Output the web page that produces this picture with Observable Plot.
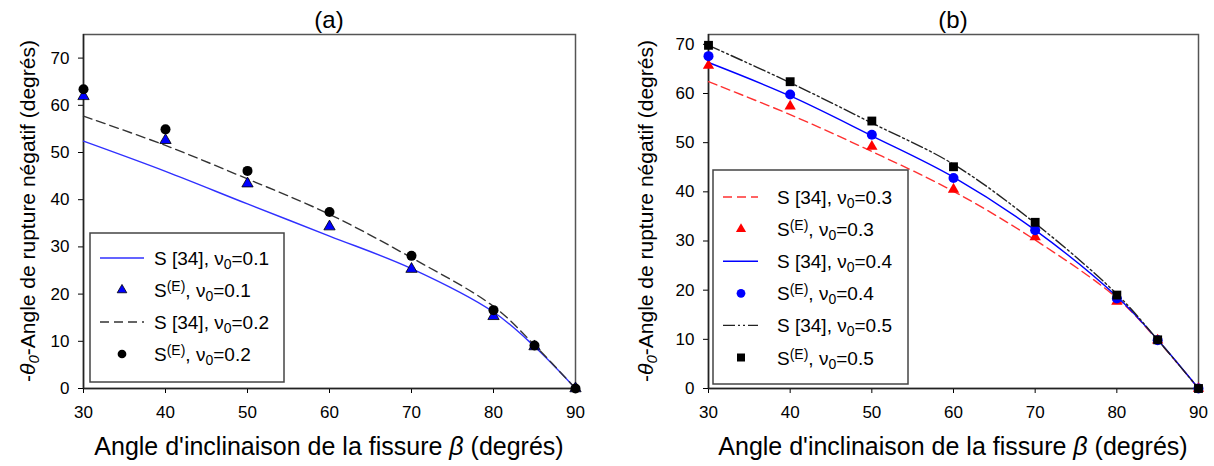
<!DOCTYPE html>
<html><head><meta charset="utf-8">
<script src="https://cdn.jsdelivr.net/npm/d3@7"></script>
<script src="https://cdn.jsdelivr.net/npm/@observablehq/plot@0.6"></script>
<style>
body{margin:0;background:#fff;font-family:"Liberation Sans",Arial,sans-serif;}
#wrap{position:relative;width:1214px;height:466px;overflow:hidden;background:#fff}
#wrap > svg{position:absolute;top:0}
</style></head><body><div id="wrap"></div>
<script>
// ---- data ----
const beta = [30, 40, 50, 60, 70, 80, 85, 90];
const xTicks = [30, 40, 50, 60, 70, 80, 90];
const yTicks = [0, 10, 20, 30, 40, 50, 60, 70];
// panel (a)
const a_S_nu01 = [52.4, 46.0, 39.1, 32.3, 25.4, 16.2, 8.9, 0];
const a_E_nu01 = [61.9, 52.6, 43.4, 34.3, 25.3, 15.3, 8.9, 0];
const a_S_nu02 = [57.7, 51.5, 44.4, 36.9, 27.7, 17.4, 9.2, 0];
const a_E_nu02 = [63.4, 54.9, 46.1, 37.4, 28.1, 16.6, 9.1, 0];
// panel (b)
const b_S_nu03 = [62.4, 55.7, 48.2, 40.1, 30.2, 18.4, 9.8, 0];
const b_E_nu03 = [65.7, 57.4, 49.2, 40.5, 30.8, 17.7, 9.8, 0];
const b_S_nu04 = [66.3, 59.5, 51.4, 43.0, 32.2, 18.7, 9.9, 0];
const b_E_nu04 = [67.6, 59.8, 51.6, 42.8, 32.2, 18.3, 9.8, 0];
const b_S_nu05 = [69.8, 62.2, 54.0, 45.6, 33.6, 19.2, 9.9, 0];
const b_E_nu05 = [69.8, 62.4, 54.4, 45.1, 33.8, 19.0, 9.9, 0];

const rows = vals => beta.map((b, i) => ({beta: b, v: vals[i]}));
const FONT = "Liberation Sans, Arial, sans-serif";

function makePlot(width, ml, mr, ymax, marks) {
  return Plot.plot({
    width, height: 466,
    marginLeft: ml, marginRight: mr, marginTop: 34, marginBottom: 78,
    style: {fontFamily: FONT, fontSize: "17px", color: "#000", background: "transparent", overflow: "visible"},
    x: {domain: [30, 90]},
    y: {domain: [0, ymax]},
    marks: [
      Plot.frame({stroke: "#555", strokeWidth: 1.5}),
      Plot.axisX({ticks: xTicks, tickSize: 5, tickPadding: 12, label: null, fontSize: 17}),
      Plot.axisY({ticks: yTicks, tickSize: 5, tickPadding: 9, label: null, fontSize: 17}),
      Plot.ruleX([30], {stroke: "#222", strokeWidth: 1.5}),
      Plot.ruleY([0], {stroke: "#222", strokeWidth: 1.5}),
      ...marks
    ]
  });
}

const L = (vals, o) => Plot.line(rows(vals), {x: "beta", y: "v", curve: "catmull-rom", strokeWidth: 1.4, ...o});
const D = (vals, o) => Plot.dot(rows(vals), {x: "beta", y: "v", ...o});

const plotA = makePlot(600, 83, 25, 75, [
  L(a_S_nu01, {stroke: "#3030ff"}),
  L(a_S_nu02, {stroke: "#333", strokeDasharray: "9,5"}),
  D(a_E_nu01, {symbol: "triangle", r: 4.2, fill: "#0000ff", stroke: "#000", strokeWidth: 0.8}),
  D(a_E_nu02, {symbol: "circle", r: 5, fill: "#000"})
]);
const plotB = makePlot(614, 108, 16, 72, [
  L(b_S_nu03, {stroke: "#ff3030", strokeDasharray: "9,5"}),
  L(b_S_nu04, {stroke: "#0000ff"}),
  L(b_S_nu05, {stroke: "#222", strokeDasharray: "12,3,2,3,2,3"}),
  D(b_E_nu03, {symbol: "triangle", r: 4.2, fill: "#ff0000"}),
  D(b_E_nu04, {symbol: "circle", r: 5, fill: "#0000ff"}),
  D(b_E_nu05, {symbol: "square", r: 5, fill: "#000"})
]);

const wrap = document.getElementById("wrap");
plotA.style.left = "0px";
plotB.style.left = "600px";
wrap.appendChild(plotA);
wrap.appendChild(plotB);

function richText(sel, parts, size) {
  parts.forEach(p => {
    const t = sel.append("tspan").text(p.t);
    if (p.it) t.attr("font-style", "italic");
    if (p.sub) t.attr("baseline-shift", "-28%").attr("font-size", Math.round(size * 0.72));
    if (p.sup) t.attr("baseline-shift", "45%").attr("font-size", Math.round(size * 0.72));
  });
}

function decorate(svgNode, title, cx, ylabX) {
  const svg = d3.select(svgNode);
  svg.append("text").attr("x", cx).attr("y", 28).attr("text-anchor", "middle")
    .attr("font-family", FONT).attr("font-size", 24).text(title);
  const xl = svg.append("text").attr("x", cx).attr("y", 455).attr("text-anchor", "middle")
    .attr("font-family", FONT).attr("font-size", 25).attr("fill", "#000");
  richText(xl, [{t: "Angle d'inclinaison de la fissure "}, {t: "β", it: true}, {t: " (degrés)"}], 25);
  const yl = svg.append("text").attr("transform", `translate(${ylabX},211) rotate(-90)`)
    .attr("text-anchor", "middle").attr("font-family", FONT).attr("font-size", 21).attr("fill", "#000");
  richText(yl, [{t: "-"}, {t: "θ", it: true}, {t: "0", it: true, sub: true}, {t: "-Angle de rupture négatif (degrés)"}], 21);
}
decorate(plotA, "(a)", 329, 35);
decorate(plotB, "(b)", 353, 53);

function legend(svgNode, x0, y0, w, h, step, first, lineEnd, markX, items) {
  const g = d3.select(svgNode).append("g").attr("text-anchor", "start");
  g.append("rect").attr("x", x0).attr("y", y0).attr("width", w).attr("height", h)
    .attr("fill", "#fff").attr("stroke", "#444").attr("stroke-width", 1.5);
  items.forEach((it, i) => {
    const cy = y0 + first + step * i;
    if (it.line) {
      g.append("line").attr("x1", x0 + 10).attr("x2", x0 + lineEnd).attr("y1", cy).attr("y2", cy)
        .attr("stroke", it.color).attr("stroke-width", 1.4).attr("stroke-dasharray", it.dash || null);
    } else {
      g.append("path").attr("d", d3.symbol(it.sym, it.size)())
        .attr("transform", `translate(${x0 + markX},${cy})`).attr("fill", it.color)
        .attr("stroke", it.stroke || "none").attr("stroke-width", 0.8);
    }
    const t = g.append("text").attr("x", x0 + 64).attr("y", cy + 7).attr("text-anchor", "start")
      .attr("font-family", FONT).attr("font-size", 19).attr("fill", "#000");
    richText(t, it.label, 19);
  });
}
const lab = (sup, nu) => sup
  ? [{t: "S"}, {t: "(E)", sup: true}, {t: ", ν"}, {t: "0", sub: true}, {t: "=" + nu}]
  : [{t: "S [34], ν"}, {t: "0", sub: true}, {t: "=" + nu}];

legend(plotA, 90, 233, 194, 149, 32, 25, 54, 32, [
  {line: true, color: "#3030ff", label: lab(false, "0.1")},
  {sym: d3.symbolTriangle, size: 40, color: "#0000ff", stroke: "#000", label: lab(true, "0.1")},
  {line: true, color: "#333", dash: "9,5", label: lab(false, "0.2")},
  {sym: d3.symbolCircle, size: 60, color: "#000", label: lab(true, "0.2")}
]);
legend(plotB, 113, 170, 195, 214, 32.1, 27, 45, 28, [
  {line: true, color: "#ff3030", dash: "9,5", label: lab(false, "0.3")},
  {sym: d3.symbolTriangle, size: 45, color: "#ff0000", label: lab(true, "0.3")},
  {line: true, color: "#0000ff", label: lab(false, "0.4")},
  {sym: d3.symbolCircle, size: 60, color: "#0000ff", label: lab(true, "0.4")},
  {line: true, color: "#222", dash: "12,3,2,3,2,3", label: lab(false, "0.5")},
  {sym: d3.symbolSquare, size: 64, color: "#000", label: lab(true, "0.5")}
]);
</script></body></html>
